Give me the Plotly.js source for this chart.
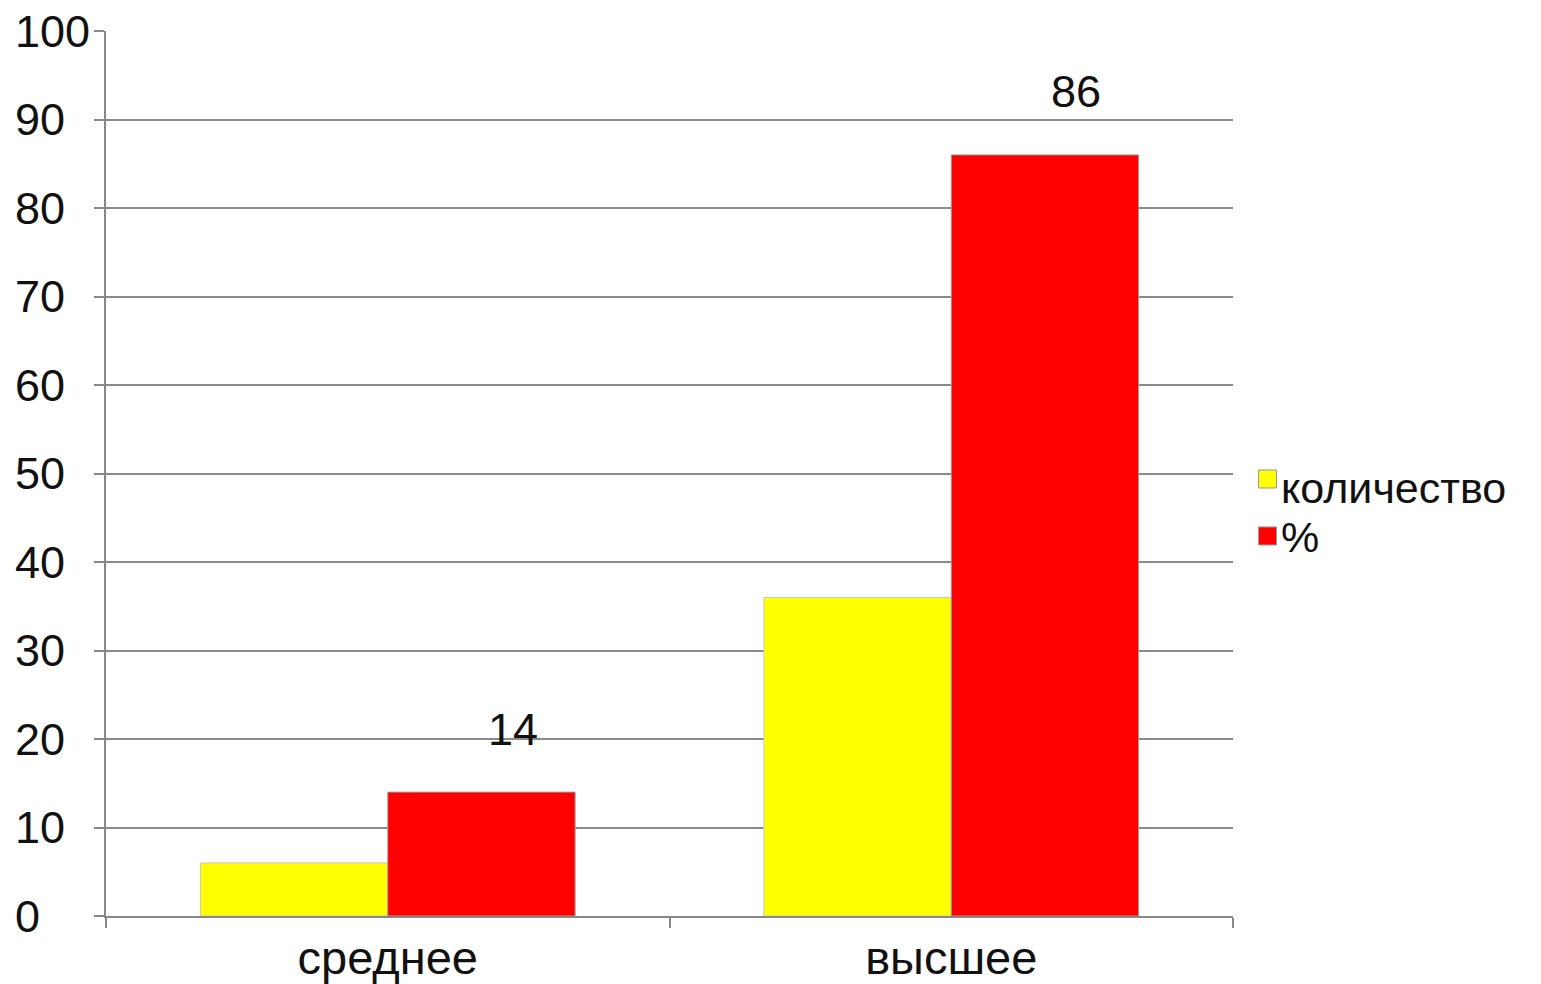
<!DOCTYPE html>
<html>
<head>
<meta charset="utf-8">
<script src="https://cdn.plot.ly/plotly-3.0.1.min.js"></script>
<style>
html,body{margin:0;padding:0;background:#fff;}
#chart{width:1541px;height:984px;}
</style>
</head>
<body>
<div id="chart"></div>
<script>
const categories = ["среднее", "высшее"];
const seriesNames = ["количество", "%"];
const seriesColors = ["#ffff00", "#ff0000"];
const countValues = [6, 36];
const percentValues = [14, 86];
const yTicks = [0, 10, 20, 30, 40, 50, 60, 70, 80, 90, 100];

const FAM = "Liberation Sans, Arial, sans-serif";
const tickFont = {family: FAM, size: 45, color: "#111"};
const textFont = {family: FAM, size: 47, color: "#111"};
const legendFont = {family: FAM, size: 43, color: "#111"};

// pad tick labels with no-break spaces so they look left-aligned (one digit = two spaces)
const maxLen = Math.max(...yTicks.map(v => String(v).length));
const yTickText = yTicks.map(v => {
  const s = String(v);
  return s + "\u00a0".repeat(2 * (maxLen - s.length));
});

const traces = [
  {
    type: "bar", name: seriesNames[0], x: categories, y: countValues,
    marker: {color: seriesColors[0], line: {color: "#c8c8c8", width: 1}},
    hoverinfo: "none"
  },
  {
    type: "bar", name: seriesNames[1], x: categories, y: percentValues,
    marker: {color: seriesColors[1], line: {color: "#a0a0a0", width: 1}},
    hoverinfo: "none"
  }
];

const annotations = categories.map((c, i) => ({
  x: c, y: percentValues[i], xref: "x", yref: "y",
  text: String(percentValues[i]), showarrow: false,
  xshift: 125, yshift: 63, font: tickFont
}));

// custom legend (larger squares than Plotly's built-in legend)
const legendY = [0.4938, 0.4294];
const legendTextY = [0.4836, 0.4282];
const shapes = [];
seriesNames.forEach((name, i) => {
  shapes.push({
    type: "rect", xref: "paper", yref: "paper",
    xsizemode: "pixel", ysizemode: "pixel",
    xanchor: 1.0306, yanchor: legendY[i],
    x0: -9, x1: 9, y0: -9, y1: 9,
    fillcolor: seriesColors[i], line: {color: "#999", width: 1}
  });
  annotations.push({
    xref: "paper", yref: "paper", x: 1.0415, y: legendTextY[i],
    xanchor: "left", yanchor: "middle", showarrow: false, borderpad: 0,
    text: name, font: legendFont
  });
});

const layout = {
  width: 1541, height: 984,
  margin: {l: 106, r: 308, t: 31, b: 68},
  paper_bgcolor: "#fff", plot_bgcolor: "#fff",
  font: textFont,
  barmode: "group", bargap: 0.335, bargroupgap: 0,
  showlegend: false,
  xaxis: {
    type: "category", showline: true, linecolor: "#888", linewidth: 2,
    ticks: "outside", ticklen: 10, tickcolor: "#888", tickwidth: 2,
    tickson: "boundaries", showgrid: false, zeroline: false,
    tickfont: textFont, automargin: false
  },
  yaxis: {
    range: [0, 100], tickvals: yTicks, ticktext: yTickText,
    showline: true, linecolor: "#888", linewidth: 2,
    ticks: "outside", ticklen: 10, tickcolor: "#888", tickwidth: 2,
    showgrid: true, gridcolor: "#8a8a8a", gridwidth: 2, zeroline: false,
    tickfont: tickFont, automargin: false, ticklabelstandoff: -5
  },
  shapes: shapes,
  annotations: annotations
};

Plotly.newPlot("chart", traces, layout, {displayModeBar: false, staticPlot: true});
</script>
</body>
</html>
